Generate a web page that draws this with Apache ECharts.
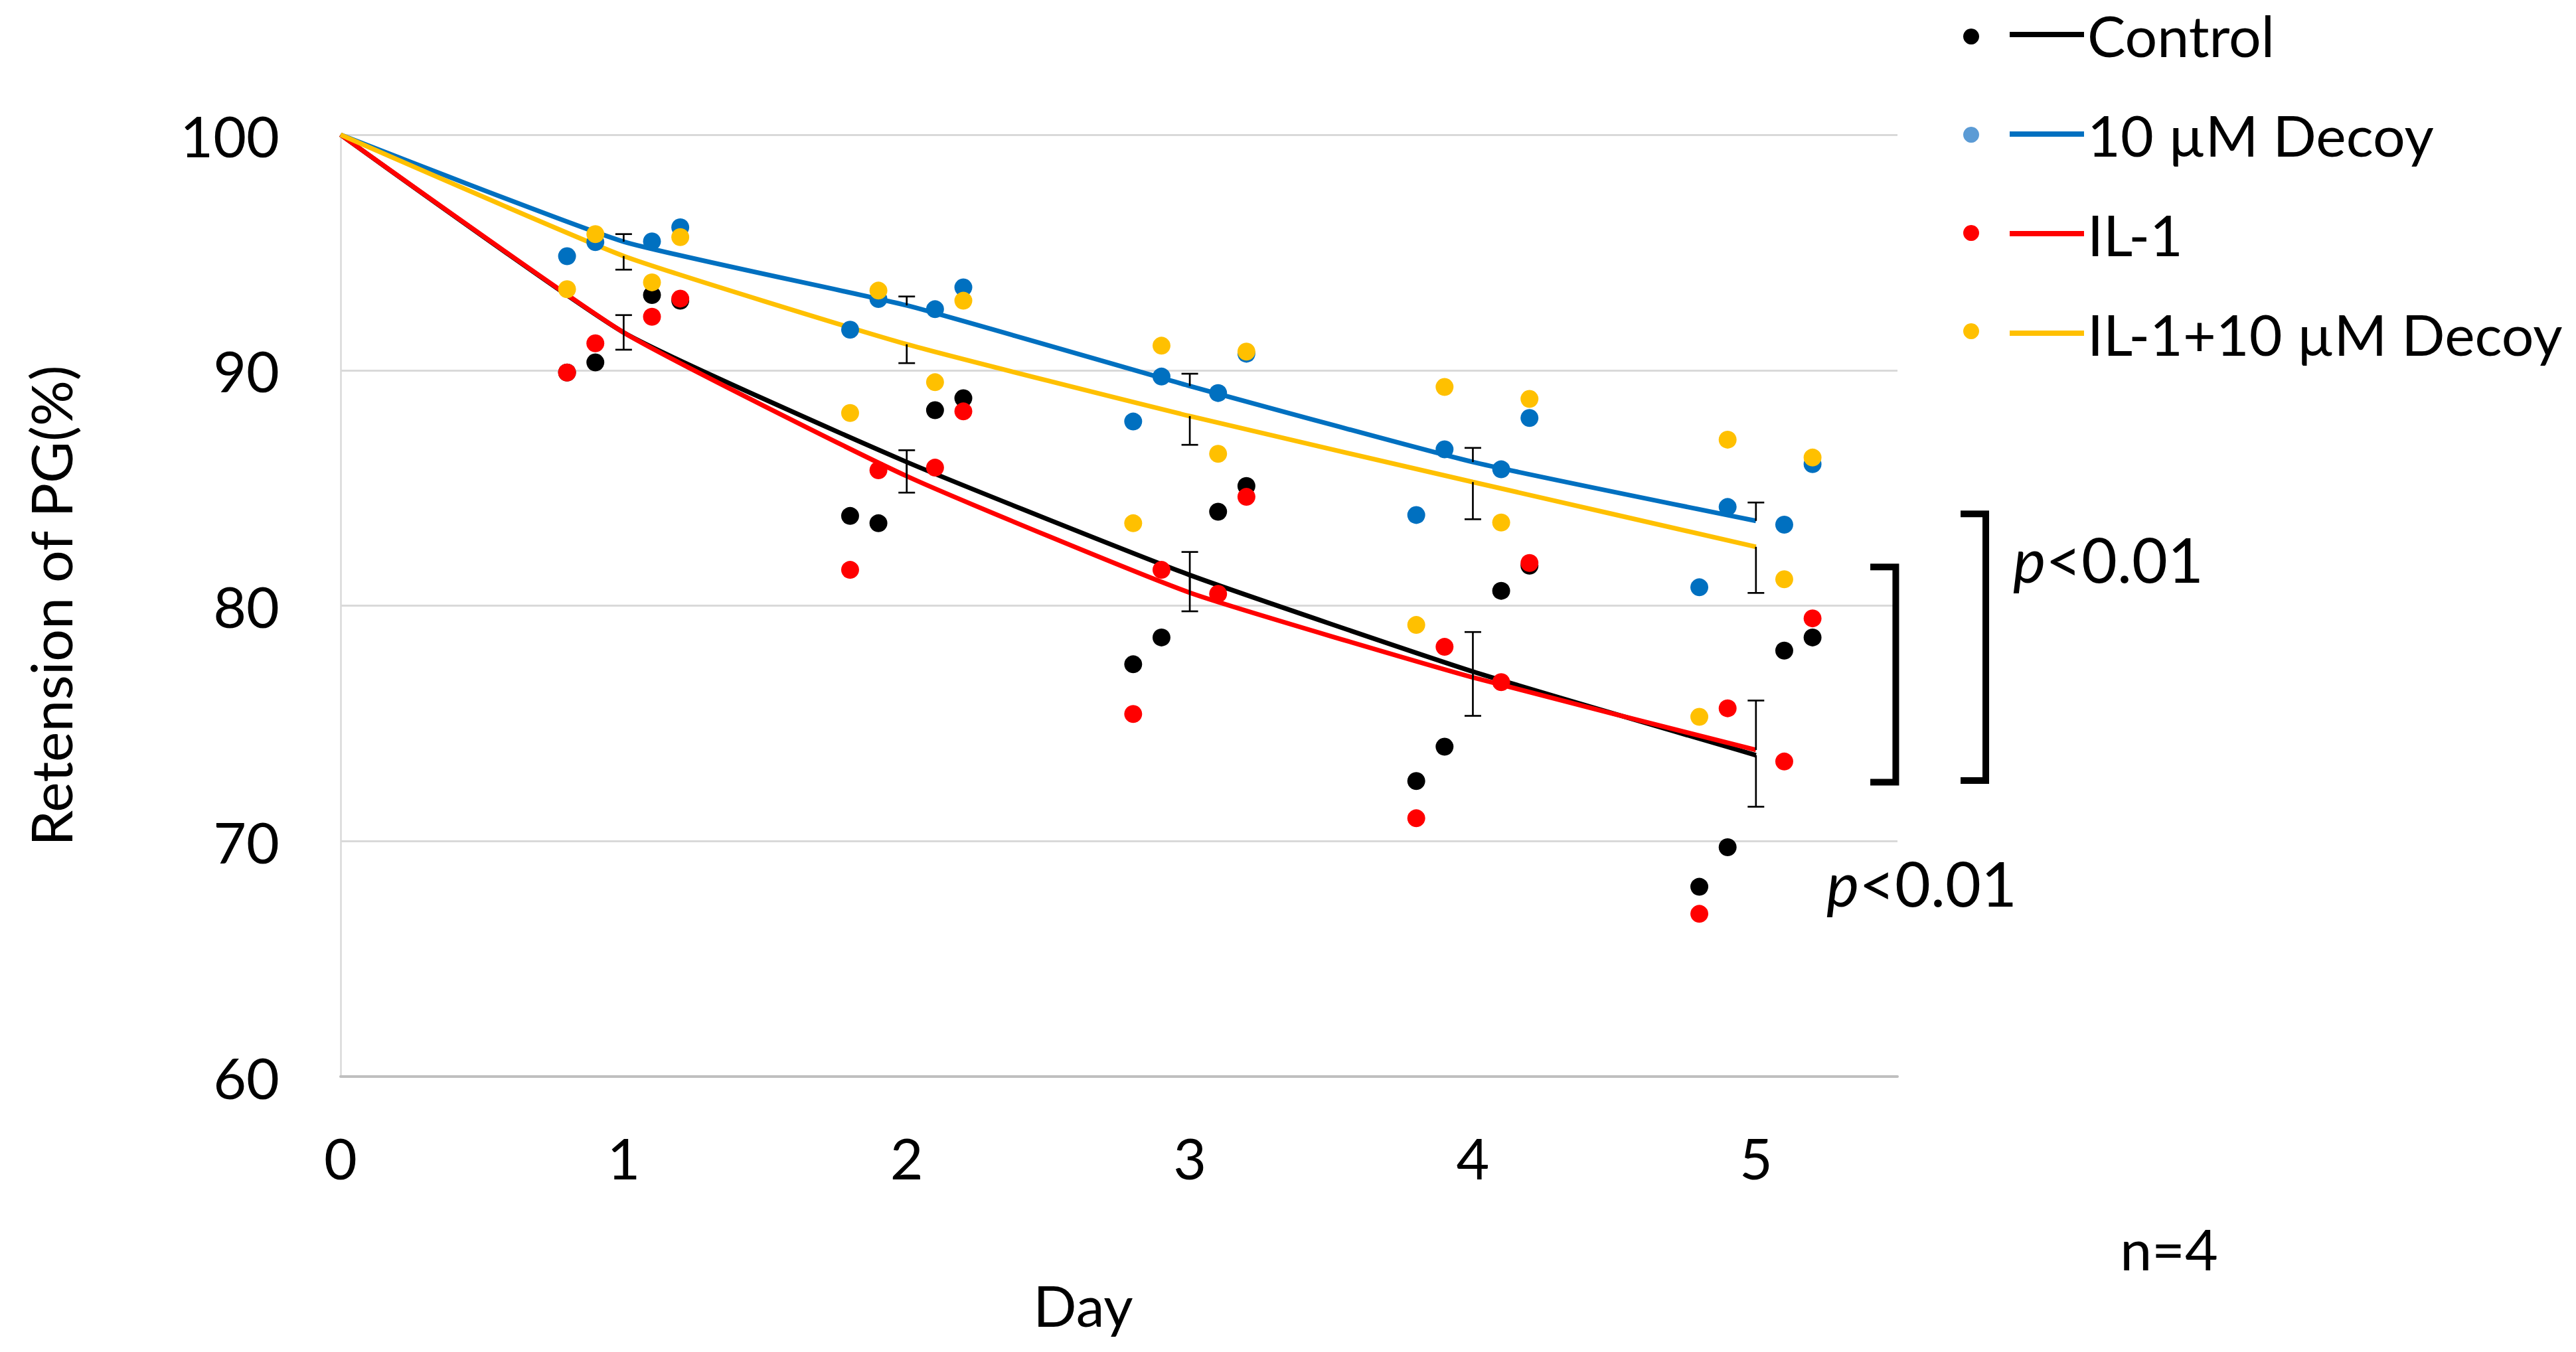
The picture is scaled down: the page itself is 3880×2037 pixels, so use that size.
<!DOCTYPE html>
<html><head><meta charset="utf-8">
<script src="https://cdn.jsdelivr.net/npm/echarts@6/dist/echarts.min.js"></script>
<style>html,body{margin:0;padding:0;background:#fff}#c{width:3880px;height:2037px}</style>
</head><body><div id="c"></div>
<script>
// ---------- data ----------
const days = [0, 1, 2, 3, 4, 5];
const pointX = [0.8, 0.9, 1.1, 1.2, 1.8, 1.9, 2.1, 2.2, 2.8, 2.9, 3.1, 3.2, 3.8, 3.9, 4.1, 4.2, 4.8, 4.9, 5.1, 5.2];
const seriesNames = ['Control', '10 µM Decoy', 'IL-1', 'IL-1+10 µM Decoy'];
const seriesColors = ['#000000', '#0070C0', '#FF0000', '#FFC000'];
const legendDotColors = ['#000000', '#5B9BD5', '#FF0000', '#FFC000'];

const controlPts  = [89.9, 90.33, 93.19, 92.95, 83.81, 83.50, 88.30, 88.81, 77.51, 78.65, 83.99, 85.08, 72.55, 74.01, 80.63, 81.7, 68.06, 69.74, 78.09, 78.65];
const decoyPts    = [94.84, 95.44, 95.47, 96.07, 91.72, 93.02, 92.59, 93.52, 87.82, 89.73, 89.03, 90.70, 83.85, 86.64, 85.79, 87.97, 80.78, 84.19, 83.44, 86.01];
const il1Pts      = [89.90, 91.14, 92.27, 93.04, 81.52, 85.75, 85.86, 88.25, 75.40, 81.52, 80.50, 84.62, 70.97, 78.25, 76.75, 81.81, 66.91, 75.64, 73.38, 79.46];
const il1DecoyPts = [93.44, 95.78, 93.73, 95.65, 88.18, 93.38, 89.49, 92.95, 83.50, 91.04, 86.45, 90.79, 79.18, 89.29, 83.53, 88.78, 75.28, 87.05, 81.12, 86.29];

const controlMean  = [100, 91.6, 86.1, 81.3, 77.2, 73.65];
const decoyMean    = [100, 95.46, 92.75, 89.33, 86.1, 83.6];
const il1Mean      = [100, 91.6, 85.5, 80.55, 76.95, 73.87];
const il1DecoyMean = [100, 94.85, 91.1, 88.05, 85.25, 82.5];

// error bars (days 1..5): +1 = drawn upward, -1 = drawn downward
const controlErr  = [0.73, 1.3, 1.54, 1.88, 2.19];
const decoyErr    = [0.32, 0.38, 0.52, 0.6, 0.78];
const il1Err      = [0.74, 1.1, 1.73, 1.93, 2.1];
const il1DecoyErr = [0.58, 0.8, 1.22, 1.58, 1.96];
const errDirection = [-1, 1, 1, -1];

const xTicks = [0, 1, 2, 3, 4, 5];
const yTicks = [60, 70, 80, 90, 100];

// significance brackets [top value, bottom value]
const bracketInner = [81.64, 72.5];
const bracketOuter = [83.9, 72.57];
const pLabel = 'p<0.01';

// ---------- build ----------
const FONT = 'Lato';
const allPts = [controlPts, decoyPts, il1Pts, il1DecoyPts];
const allMean = [controlMean, decoyMean, il1Mean, il1DecoyMean];
const allErr = [controlErr, decoyErr, il1Err, il1DecoyErr];

const chart = echarts.init(document.getElementById('c'), null, {renderer: 'svg'});

function errRender(params, api) {
  const x = api.value(0), start = api.value(1), end = api.value(2);
  const p0 = api.coord([x, start]), p1 = api.coord([x, end]);
  const cw = 12.5;
  const st = {stroke: '#000', lineWidth: 2.7};
  return {type: 'group', children: [
    {type: 'line', shape: {x1: p0[0], y1: p0[1], x2: p1[0], y2: p1[1]}, style: st},
    {type: 'line', shape: {x1: p1[0] - cw, y1: p1[1], x2: p1[0] + cw, y2: p1[1]}, style: st}
  ]};
}

const series = [];
seriesNames.forEach((name, i) => {
  series.push({
    name: name, type: 'line', color: seriesColors[i],
    data: days.map((d, k) => [d, allMean[i][k]]),
    symbol: 'none', smooth: 0.15, z: 2,
    lineStyle: {width: 7, color: seriesColors[i]}
  });
});
seriesNames.forEach((name, i) => {
  series.push({
    name: name + ' err', type: 'custom', z: 3,
    renderItem: errRender,
    encode: {x: 0, y: [1, 2]},
    data: allErr[i].map((e, k) => {
      const m = allMean[i][k + 1];
      return [days[k + 1], m, m + errDirection[i] * e];
    })
  });
});
seriesNames.forEach((name, i) => {
  series.push({
    name: name + ' points', type: 'scatter', color: seriesColors[i], z: 4,
    symbol: 'circle', symbolSize: 27,
    itemStyle: {color: seriesColors[i], opacity: 1},
    data: pointX.map((x, k) => [x, allPts[i][k]])
  });
});

chart.setOption({
  animation: false,
  backgroundColor: '#fff',
  textStyle: {fontFamily: FONT, color: '#000'},
  grid: {left: 513, right: 1022, top: 203, bottom: 415, containLabel: false},
  legend: [
    {
      data: seriesNames.map((n, i) => ({name: n + ' points', itemStyle: {color: legendDotColors[i]}})),
      orient: 'vertical', left: 2952, top: 38, icon: 'circle',
      itemWidth: 24, itemHeight: 24, itemGap: 124,
      formatter: () => '', textStyle: {fontSize: 12, lineHeight: 12}, selectedMode: false
    },
    {
      data: seriesNames.map(n => ({name: n})),
      orient: 'vertical', left: 3022, top: 4, icon: 'rect',
      itemWidth: 112, itemHeight: 8, itemGap: 64,
      textStyle: {fontSize: 86, fontFamily: FONT, color: '#000', lineHeight: 86}, selectedMode: false
    }
  ],
  xAxis: {
    type: 'value', min: 0, max: 5.5, interval: 1,
    name: 'Day', nameLocation: 'middle', nameGap: 300,
    nameTextStyle: {fontSize: 86, fontFamily: FONT, color: '#000', padding: [0, 108, 0, 0]},
    axisLine: {show: true, lineStyle: {color: '#BFBFBF', width: 4}},
    axisTick: {show: false},
    splitLine: {show: false},
    axisLabel: {
      fontSize: 86, fontFamily: FONT, color: '#000', margin: 78,
      formatter: v => (xTicks.indexOf(v) >= 0 ? String(v) : '')
    }
  },
  yAxis: {
    type: 'value', min: 60, max: 100, interval: 10,
    name: 'Retension of PG(%)', nameLocation: 'middle', nameGap: 395, nameRotate: 90,
    nameTextStyle: {fontSize: 86, fontFamily: FONT, color: '#000'},
    axisLine: {show: true, lineStyle: {color: '#D9D9D9', width: 2.5}},
    axisTick: {show: false},
    splitLine: {show: true, lineStyle: {color: '#D9D9D9', width: 3}},
    axisLabel: {
      fontSize: 86, fontFamily: FONT, color: '#000', margin: 92,
      formatter: v => (yTicks.indexOf(v) >= 0 ? String(v) : '')
    }
  },
  series: series
});

// annotations: brackets and texts
const px = (x, y) => chart.convertToPixel({gridIndex: 0}, [x, y]);
function bracket(xl, xr, vals) {
  const a = px(xl, vals[0]), b = px(xr, vals[0]), c = px(xr, vals[1]), d = px(xl, vals[1]);
  return {type: 'polyline', shape: {points: [a, b, c, d]},
    style: {stroke: '#000', lineWidth: 10, fill: null, lineJoin: 'miter'}, z: 10};
}
function pText(x, y) {
  return {type: 'text', x: x, y: y, z: 10,
    style: {text: '{i|p}{n|' + pLabel.slice(1) + '}', textVerticalAlign: 'middle', verticalAlign: 'middle', align: 'left',
      rich: {
        i: {fontStyle: 'italic', fontSize: 93, fontFamily: FONT, fill: '#000'},
        n: {fontSize: 93, fontFamily: FONT, fill: '#000'}
      }}};
}
chart.setOption({
  graphic: [
    bracket(5.404, 5.494, bracketInner),
    bracket(5.723, 5.812, bracketOuter),
    pText(3032, 842),
    pText(2751, 1330),
    {type: 'text', x: 3267, y: 1880, z: 10,
      style: {text: 'n=4', fontSize: 86, fontFamily: FONT, fill: '#000', align: 'center', verticalAlign: 'middle'}}
  ]
});
</script>
</body></html>
